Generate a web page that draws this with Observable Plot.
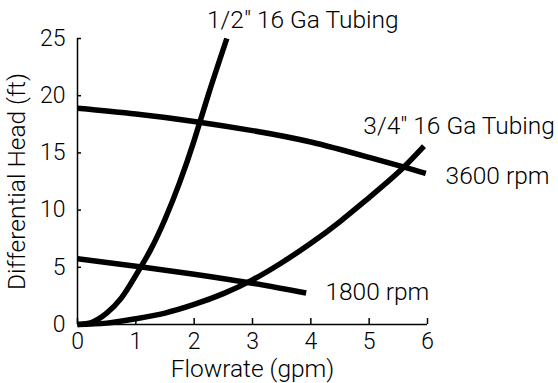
<!DOCTYPE html>
<html><head><meta charset="utf-8">
<script src="https://cdn.jsdelivr.net/npm/d3@7"></script>
<script src="https://cdn.jsdelivr.net/npm/@observablehq/plot@0.6"></script>
<style>body{margin:0;background:#fff}</style>
</head><body><div id="chart"></div>
<script>
const xTicks = [0, 1, 2, 3, 4, 5, 6];
const yTicks = [0, 5, 10, 15, 20, 25];

const rpm3600X = [0, 1, 2, 3, 4, 5, 5.6, 5.97];
const rpm3600Y = [18.9, 18.4, 17.75, 16.95, 15.95, 14.6, 13.75, 13.2];

const rpm1800X = [0, 1, 2, 3, 3.92];
const rpm1800Y = [5.75, 5.1, 4.4, 3.6, 2.75];

const tubeHalfX = [0, 0.25, 0.5, 0.75, 1, 1.25, 1.5, 1.75, 2, 2.25, 2.56];
const tubeHalfY = [0, 0.2, 1.0, 2.3, 4.3, 6.5, 9.2, 12.4, 16.1, 20.2, 25];

const tubeThreeQX = [0, 0.5, 1, 1.5, 2, 2.5, 3, 3.5, 4, 4.5, 5, 5.5, 5.94];
const tubeThreeQY = [0, 0.12, 0.5, 1.0, 1.75, 2.7, 3.9, 5.4, 7.1, 9.0, 11.1, 13.3, 15.6];

const labelText = ['1/2" 16 Ga Tubing', '3/4" 16 Ga Tubing', '3600 rpm', '1800 rpm'];
const labelX = [2.22, 4.9, 6.31, 4.25];
const labelY = [26.6, 17.3, 13.0, 2.84];

const xTitle = "Flowrate (gpm)";
const yTitle = "Differential Head (ft)";

const zip = (xs, ys) => xs.map((x, i) => ({x, y: ys[i]}));
const series = [zip(rpm3600X, rpm3600Y), zip(rpm1800X, rpm1800Y), zip(tubeHalfX, tubeHalfY), zip(tubeThreeQX, tubeThreeQY)];
const labels = labelText.map((t, i) => ({t, x: labelX[i], y: labelY[i]}));

const lineStyle = {x: "x", y: "y", stroke: "black", strokeWidth: 5.5, strokeLinecap: "butt", curve: "natural"};
const textSize = 24.5;

const chart = Plot.plot({
  width: 558,
  height: 383,
  marginLeft: 77,
  marginRight: 131,
  marginTop: 38,
  marginBottom: 59,
  style: {fontFamily: "Roboto", fontSize: "23px", fontWeight: 300, color: "black", background: "white"},
  x: {domain: [0, 6]},
  y: {domain: [0, 25]},
  marks: [
    Plot.ruleY([0], {stroke: "black", strokeWidth: 1.5}),
    Plot.ruleX([0], {stroke: "black", strokeWidth: 1.5}),
    Plot.axisX({ticks: xTicks, tickSize: 0, tickPadding: 8, label: null, tickFormat: d => d}),
    Plot.axisY({ticks: yTicks, tickSize: 0, tickPadding: 12, label: null, tickFormat: d => d}),
    Plot.tickX(xTicks, {x: d => d, stroke: "black", strokeWidth: 1.5, insetTop: 280}),
    Plot.tickY(yTicks, {y: d => d, stroke: "black", strokeWidth: 1.5, insetRight: 346}),
    ...series.map(s => Plot.line(s, lineStyle)),
    Plot.text(labels, {x: "x", y: "y", text: "t", textAnchor: "start", lineAnchor: "middle", fill: "black", fontSize: textSize}),
    Plot.text([xTitle], {frameAnchor: "bottom", textAnchor: "middle", lineAnchor: "middle", dy: 45, fill: "black", fontSize: textSize}),
    Plot.text([yTitle], {frameAnchor: "left", textAnchor: "middle", lineAnchor: "middle", rotate: -90, dx: -60, fill: "black", fontSize: textSize})
  ]
});
document.getElementById("chart").appendChild(chart);
</script>
</body></html>
